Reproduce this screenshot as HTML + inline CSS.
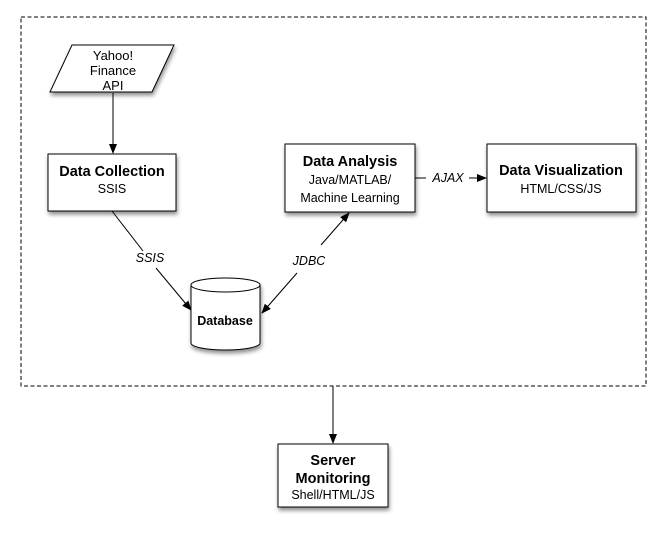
<!DOCTYPE html>
<html><head><style>
body{margin:0;background:#fff;}
svg text{font-family:"Liberation Sans",Arial,sans-serif;fill:#000;}
</style></head><body>
<svg width="666" height="531" viewBox="0 0 666 531" xmlns="http://www.w3.org/2000/svg">
<defs>
<filter id="sh" x="-20%" y="-20%" width="150%" height="160%"><feGaussianBlur in="SourceAlpha" stdDeviation="2"/><feOffset dx="1" dy="3"/><feComponentTransfer><feFuncA type="linear" slope="0.45"/></feComponentTransfer><feMerge><feMergeNode/><feMergeNode in="SourceGraphic"/></feMerge></filter>
<marker id="ar" markerWidth="10" markerHeight="8" refX="9" refY="4" orient="auto" markerUnits="userSpaceOnUse"><path d="M0,0 L10,4 L0,8 z" fill="#000"/></marker>
</defs>
<rect x="21" y="17" width="625" height="369" fill="none" stroke="#000" stroke-dasharray="4,2.5" stroke-width="1"/>
<polygon points="72,45 174,45 152,92 50,92" fill="#fff" stroke="#000" filter="url(#sh)"/>
<text x="113" y="60" font-size="13" text-anchor="middle">Yahoo!</text>
<text x="113" y="75" font-size="13" text-anchor="middle">Finance</text>
<text x="113" y="90" font-size="13" text-anchor="middle">API</text>
<line x1="113" y1="93" x2="113" y2="153" stroke="#000" marker-end="url(#ar)"/>
<rect x="48" y="154" width="128" height="57" fill="#fff" stroke="#000" filter="url(#sh)"/>
<text x="112" y="176" font-size="14.5" font-weight="bold" text-anchor="middle">Data Collection</text>
<text x="112" y="193" font-size="12.5" text-anchor="middle">SSIS</text>
<rect x="285" y="144" width="130" height="68" fill="#fff" stroke="#000" filter="url(#sh)"/>
<text x="350" y="166" font-size="14.5" font-weight="bold" text-anchor="middle">Data Analysis</text>
<text x="350" y="184" font-size="12.5" text-anchor="middle">Java/MATLAB/</text>
<text x="350" y="202" font-size="12.5" text-anchor="middle">Machine Learning</text>
<rect x="487" y="144" width="149" height="68" fill="#fff" stroke="#000" filter="url(#sh)"/>
<text x="561" y="175" font-size="14.5" font-weight="bold" text-anchor="middle">Data Visualization</text>
<text x="561" y="193" font-size="12.5" text-anchor="middle">HTML/CSS/JS</text>
<line x1="415" y1="178" x2="426" y2="178" stroke="#000"/>
<text x="448" y="182" font-size="12.5" font-style="italic" text-anchor="middle">AJAX</text>
<line x1="469" y1="178" x2="486" y2="178" stroke="#000" marker-end="url(#ar)"/>
<g filter="url(#sh)">
<path d="M191,285 L191,343 A34.5,7 0 0 0 260,343 L260,285 A34.5,7 0 0 0 191,285 Z" fill="#fff" stroke="#000"/>
<path d="M191,285 A34.5,7 0 0 0 260,285" fill="none" stroke="#000"/>
</g>
<text x="225" y="325" font-size="12.5" font-weight="bold" text-anchor="middle">Database</text>
<line x1="112" y1="211" x2="143" y2="251" stroke="#000"/>
<text x="150" y="262" font-size="12.5" font-style="italic" text-anchor="middle">SSIS</text>
<line x1="156" y1="268" x2="191" y2="310" stroke="#000" marker-end="url(#ar)"/>
<line x1="321" y1="245" x2="349" y2="213" stroke="#000" marker-end="url(#ar)"/>
<text x="309" y="265" font-size="12.5" font-style="italic" text-anchor="middle">JDBC</text>
<line x1="297" y1="273" x2="262" y2="313" stroke="#000" marker-end="url(#ar)"/>
<line x1="333" y1="386" x2="333" y2="443" stroke="#000" marker-end="url(#ar)"/>
<rect x="278" y="444" width="110" height="63" fill="#fff" stroke="#000" filter="url(#sh)"/>
<text x="333" y="465" font-size="14.5" font-weight="bold" text-anchor="middle">Server</text>
<text x="333" y="483" font-size="14.5" font-weight="bold" text-anchor="middle">Monitoring</text>
<text x="333" y="499" font-size="12.5" text-anchor="middle">Shell/HTML/JS</text>
</svg>
</body></html>
